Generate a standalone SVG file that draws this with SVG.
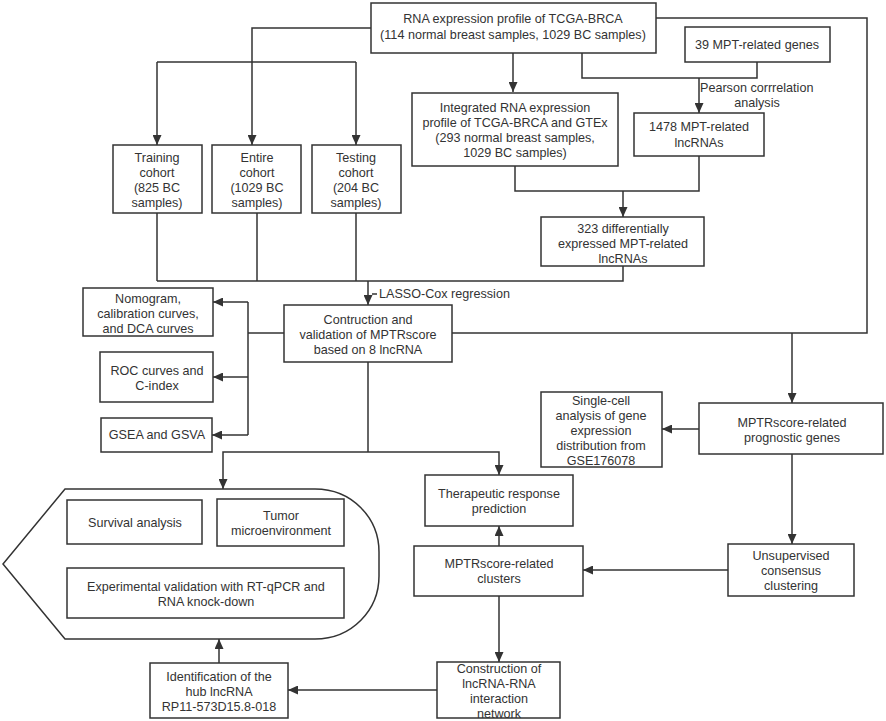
<svg xmlns="http://www.w3.org/2000/svg" width="886" height="721" viewBox="0 0 886 721">
<style>
.b{fill:#fff;stroke:#333;stroke-width:1.5}
.t{font-family:"Liberation Sans",Arial,sans-serif;font-size:12.6px;fill:#333;text-anchor:middle}
.l{font-family:"Liberation Sans",Arial,sans-serif;font-size:12.6px;fill:#333}
.c{fill:none;stroke:#333;stroke-width:1.5}
.a{marker-end:url(#ah)}
</style>
<defs>
<marker id="ah" markerUnits="userSpaceOnUse" markerWidth="10" markerHeight="9" refX="10" refY="4.5" orient="auto">
<path d="M0,0 L10,4.5 L0,9 Z" fill="#333"/>
</marker>
</defs>
<rect width="886" height="721" fill="#fff"/>
<g id="connectors">
<polyline class="c a" points="371,28 252,28 252,145"/>
<polyline class="c" points="157,62 356,62"/>
<line class="c a" x1="157" y1="62" x2="157" y2="145"/>
<line class="c a" x1="356" y1="62" x2="356" y2="145"/>
<line class="c a" x1="513" y1="53" x2="513" y2="92"/>
<polyline class="c" points="582,53 582,78 757,78 757,62"/>
<line class="c a" x1="699" y1="78" x2="699" y2="113"/>
<polyline class="c" points="656,18 867,18 867,333 452,333"/>
<line class="c a" x1="792" y1="333" x2="792" y2="403"/>
<polyline class="c" points="515,166 515,191 699,191 699,156"/>
<line class="c a" x1="623" y1="191" x2="623" y2="217"/>
<polyline class="c" points="623,266 623,281 157,281"/>
<line class="c" x1="157" y1="213" x2="157" y2="281"/>
<line class="c" x1="257" y1="213" x2="257" y2="281"/>
<line class="c" x1="356" y1="213" x2="356" y2="281"/>
<line class="c a" x1="368" y1="281" x2="368" y2="305"/>
<line class="c" x1="372" y1="294" x2="377" y2="294"/>
<line class="c" x1="284" y1="333" x2="248" y2="333"/>
<line class="c" x1="248" y1="302" x2="248" y2="435"/>
<line class="c a" x1="248" y1="302" x2="213" y2="302"/>
<line class="c a" x1="248" y1="377" x2="213" y2="377"/>
<line class="c a" x1="248" y1="435" x2="212" y2="435"/>
<line class="c" x1="368" y1="362" x2="368" y2="452"/>
<polyline class="c a" points="368,452 223,452 223,489"/>
<polyline class="c a" points="368,452 499,452 499,475"/>
<line class="c a" x1="699" y1="429" x2="662" y2="429"/>
<line class="c a" x1="792" y1="454" x2="792" y2="544"/>
<line class="c a" x1="728" y1="570" x2="583" y2="570"/>
<line class="c a" x1="499" y1="546" x2="499" y2="526"/>
<line class="c a" x1="499" y1="596" x2="499" y2="662"/>
<line class="c a" x1="437" y1="690" x2="288" y2="690"/>
<line class="c a" x1="219" y1="663" x2="219" y2="639"/>
</g>
<text class="l" x="700" y="92">Pearson corrrelation</text>
<text class="t" x="757" y="107">analysis</text>
<text class="l" x="379" y="298">LASSO-Cox regression</text>
<g id="n-top"><rect class="b" x="371" y="3" width="285" height="50"/>
<text class="t" x="513" y="23">RNA expression profile of TCGA-BRCA</text>
<text class="t" x="513" y="39">(114 normal breast samples, 1029 BC samples)</text></g>
<g id="n-genes"><rect class="b" x="685" y="27" width="145" height="35"/>
<text class="t" x="757" y="49">39 MPT-related genes</text></g>
<g id="n-integrated"><rect class="b" x="412" y="93" width="206" height="73"/>
<text class="t" x="515" y="112">Integrated RNA expression</text>
<text class="t" x="515" y="127">profile of TCGA-BRCA and GTEx</text>
<text class="t" x="515" y="142">(293 normal breast samples,</text>
<text class="t" x="515" y="157">1029 BC samples)</text></g>
<g id="n-1478"><rect class="b" x="634" y="113" width="130" height="43"/>
<text class="t" x="699" y="131">1478 MPT-related</text>
<text class="t" x="699" y="147">lncRNAs</text></g>
<g id="n-323"><rect class="b" x="541" y="217" width="163" height="49"/>
<text class="t" x="623" y="233">323 differentially</text>
<text class="t" x="623" y="248">expressed MPT-related</text>
<text class="t" x="623" y="263">lncRNAs</text></g>
<g id="n-training"><rect class="b" x="113" y="145" width="89" height="68"/>
<text class="t" x="157" y="162">Training</text>
<text class="t" x="157" y="177">cohort</text>
<text class="t" x="157" y="192">(825 BC</text>
<text class="t" x="157" y="207">samples)</text></g>
<g id="n-entire"><rect class="b" x="212" y="145" width="89" height="68"/>
<text class="t" x="257" y="162">Entire</text>
<text class="t" x="257" y="177">cohort</text>
<text class="t" x="257" y="192">(1029 BC</text>
<text class="t" x="257" y="207">samples)</text></g>
<g id="n-testing"><rect class="b" x="312" y="145" width="89" height="68"/>
<text class="t" x="356" y="162">Testing</text>
<text class="t" x="356" y="177">cohort</text>
<text class="t" x="356" y="192">(204 BC</text>
<text class="t" x="356" y="207">samples)</text></g>
<g id="n-construction"><rect class="b" x="284" y="305" width="168" height="57"/>
<text class="t" x="368" y="324">Contruction and</text>
<text class="t" x="368" y="339">validation of MPTRscore</text>
<text class="t" x="368" y="354">based on 8 lncRNA</text></g>
<g id="n-nomogram"><rect class="b" x="83" y="288" width="130" height="48"/>
<text class="t" x="148" y="303">Nomogram,</text>
<text class="t" x="148" y="318">calibration curves,</text>
<text class="t" x="148" y="333">and DCA curves</text></g>
<g id="n-roc"><rect class="b" x="100" y="352" width="113" height="50"/>
<text class="t" x="157" y="375">ROC curves and</text>
<text class="t" x="157" y="390">C-index</text></g>
<g id="n-gsea"><rect class="b" x="101" y="418" width="111" height="34"/>
<text class="t" x="157" y="439">GSEA and GSVA</text></g>
<g id="n-outcomes">
<path class="b" d="M65,489 H315 C352,489 379,518 379,552 V576 C379,610 352,639 315,639 H65 L3,564 Z"/>
<g id="n-survival"><rect class="b" x="67" y="500" width="135" height="44"/>
<text class="t" x="135" y="527">Survival analysis</text></g>
<g id="n-tumor"><rect class="b" x="217" y="499" width="127" height="47"/>
<text class="t" x="281" y="520">Tumor</text>
<text class="t" x="281" y="535">microenvironment</text></g>
<g id="n-experimental"><rect class="b" x="67" y="568" width="277" height="50"/>
<text class="t" x="206" y="591">Experimental validation with RT-qPCR and</text>
<text class="t" x="206" y="606">RNA knock-down</text></g>
</g>
<g id="n-hub"><rect class="b" x="150" y="663" width="138" height="55"/>
<text class="t" x="219" y="681">Identification of the</text>
<text class="t" x="219" y="696">hub lncRNA</text>
<text class="t" x="219" y="711">RP11-573D15.8-018</text></g>
<g id="n-therapeutic"><rect class="b" x="425" y="475" width="148" height="51"/>
<text class="t" x="499" y="498">Therapeutic response</text>
<text class="t" x="499" y="513">prediction</text></g>
<g id="n-clusters"><rect class="b" x="414" y="546" width="169" height="50"/>
<text class="t" x="499" y="568">MPTRscore-related</text>
<text class="t" x="499" y="583">clusters</text></g>
<g id="n-network"><rect class="b" x="437" y="662" width="123" height="56"/>
<text class="t" x="499" y="673">Construction of</text>
<text class="t" x="499" y="688">lncRNA-RNA</text>
<text class="t" x="499" y="703">interaction</text>
<text class="t" x="499" y="718">network</text></g>
<g id="n-prognostic"><rect class="b" x="699" y="403" width="184" height="51"/>
<text class="t" x="792" y="427">MPTRscore-related</text>
<text class="t" x="792" y="442">prognostic genes</text></g>
<g id="n-singlecell"><rect class="b" x="541" y="392" width="121" height="75"/>
<text class="t" x="601" y="405">Single-cell</text>
<text class="t" x="601" y="420">analysis of gene</text>
<text class="t" x="601" y="435">expression</text>
<text class="t" x="601" y="450">distribution from</text>
<text class="t" x="601" y="465">GSE176078</text></g>
<g id="n-unsupervised"><rect class="b" x="728" y="544" width="126" height="52"/>
<text class="t" x="791" y="560">Unsupervised</text>
<text class="t" x="791" y="575">consensus</text>
<text class="t" x="791" y="590">clustering</text></g>
</svg>
